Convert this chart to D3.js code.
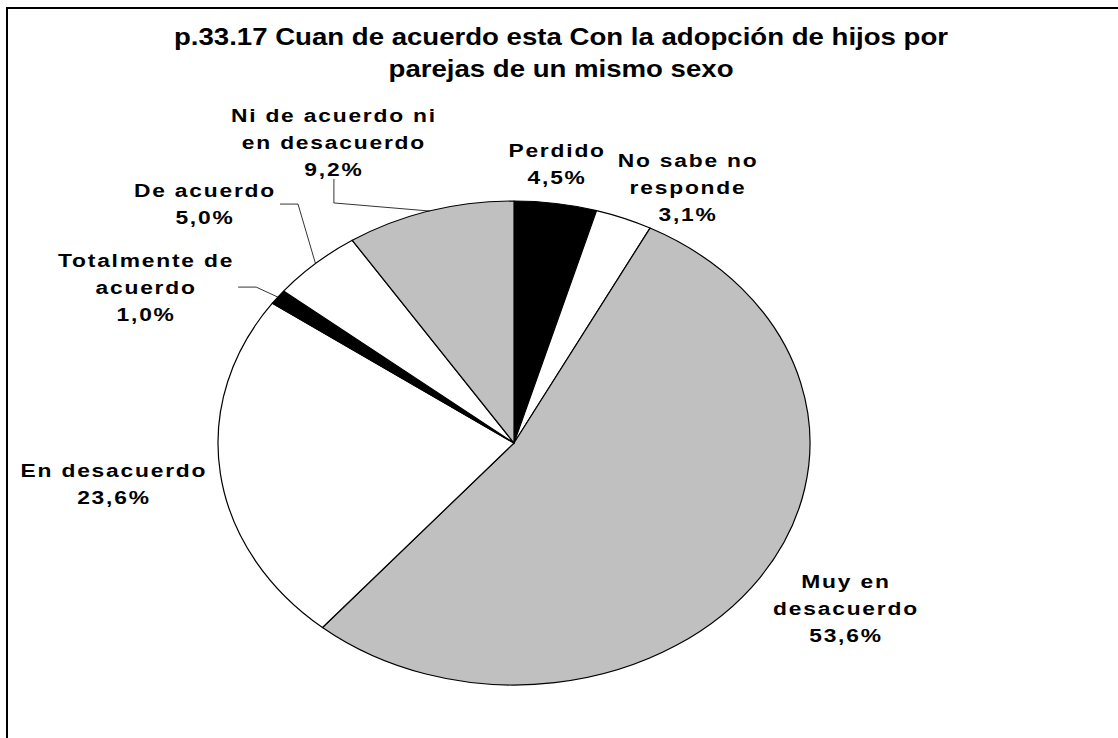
<!DOCTYPE html>
<html>
<head>
<meta charset="utf-8">
<script src="https://cdn.jsdelivr.net/npm/d3@7"></script>
<style>
  html, body { margin: 0; padding: 0; background: #fff; }
  svg { display: block; }
  text { font-family: "Liberation Sans", Arial, sans-serif; font-weight: bold; fill: #000; }
</style>
</head>
<body>
<div id="chart"></div>
<script>
// data
const titleLines = ["p.33.17 Cuan de acuerdo esta Con la adopción de hijos por", "parejas de un mismo sexo"]
const categories = ["Perdido", "No sabe no responde", "Muy en desacuerdo", "En desacuerdo",
  "Totalmente de acuerdo", "De acuerdo", "Ni de acuerdo ni en desacuerdo"]
const labelLines = [["Perdido"], ["No sabe no", "responde"], ["Muy en", "desacuerdo"], ["En desacuerdo"],
  ["Totalmente de", "acuerdo"], ["De acuerdo"], ["Ni de acuerdo ni", "en desacuerdo"]]
const percents = [4.5, 3.1, 53.6, 23.6, 1.0, 5.0, 9.2]
const fills = ["#000000", "#ffffff", "#c0c0c0", "#ffffff", "#000000", "#ffffff", "#c0c0c0"]

// label placement (angle in degrees clockwise from top, radius factor) and leader style
const labelPolar = [[7.2, 1.162], [29.1, 1.209], [121.4, 1.314], [262.9, 1.362],
  [297.4, 1.400], [313.4, 1.437], [333.9, 1.383]]
const leaderStyle = [null, null, null, null, "side", "side", "below"]

const width = 1118, height = 738
const cx = 514, cy = 443, rx = 296, ry = 242
const stretch = 1.2
const lineH = 27

const svg = d3.select("#chart").append("svg")
  .attr("width", width).attr("height", height)

// frame (runs off the right and bottom edges like the source)
svg.append("rect")
  .attr("x", 7).attr("y", 8).attr("width", width + 20).attr("height", height + 20)
  .attr("fill", "#fff").attr("stroke", "#000").attr("stroke-width", 2)

// title
const title = svg.append("g").attr("transform", `translate(561,0) scale(${stretch},1)`)
title.selectAll("text").data(titleLines).join("text")
  .attr("x", 0).attr("y", (d, i) => 45 + i * 32)
  .attr("text-anchor", "middle")
  .attr("font-size", 23)
  .text(d => d)

const pie = d3.pie().sort(null).value(d => d)
const arcs = pie(percents)
const arc = d3.arc().innerRadius(0).outerRadius(100)

const pieG = svg.append("g").attr("transform", `translate(${cx},${cy}) scale(${rx / 100},${ry / 100})`)
pieG.selectAll("path").data(arcs).join("path")
  .attr("d", arc)
  .attr("fill", (d, i) => fills[i])
  .attr("stroke", "#000")
  .attr("stroke-width", 1.2)
  .attr("vector-effect", "non-scaling-stroke")
  .attr("stroke-linejoin", "round")

const onEllipse = (a, k = 1) => [cx + rx * k * Math.sin(a), cy - ry * k * Math.cos(a)]
const fmt = v => d3.format(".1f")(v).replace(".", ",") + "%"

const labels = svg.append("g")
arcs.forEach((d, i) => {
  const [deg, k] = labelPolar[i]
  const [lx, lyMid] = onEllipse(deg * Math.PI / 180, k)
  const lines = labelLines[i].concat([fmt(percents[i])])
  const n = lines.length
  const firstBase = lyMid + 6.5 - (n - 1) * lineH / 2
  const g = labels.append("g").attr("transform", `translate(${lx},${firstBase}) scale(${stretch},1)`)
  const texts = g.selectAll("text").data(lines).join("text")
    .attr("x", 0).attr("y", (t, j) => j * lineH)
    .attr("text-anchor", "middle")
    .attr("font-size", 19).attr("letter-spacing", 1.5)
    .text(t => t)

  const style = leaderStyle[i]
  if (!style) return
  const mid = (d.startAngle + d.endAngle) / 2
  const [ex, ey] = onEllipse(mid)
  let pts
  if (style === "side") {
    const w = d3.max(texts.nodes(), n => n.getComputedTextLength()) * stretch
    const sx = lx + w / 2 + 4
    pts = [[sx, lyMid], [sx + 18, lyMid], [ex, ey]]
  } else {
    const sy = firstBase + (n - 1) * lineH + 3
    pts = [[lx, sy], [lx, sy + 24], [ex, ey]]
  }
  labels.append("path")
    .attr("d", d3.line()(pts))
    .attr("fill", "none").attr("stroke", "#000").attr("stroke-width", 0.8)
})
</script>
</body>
</html>
